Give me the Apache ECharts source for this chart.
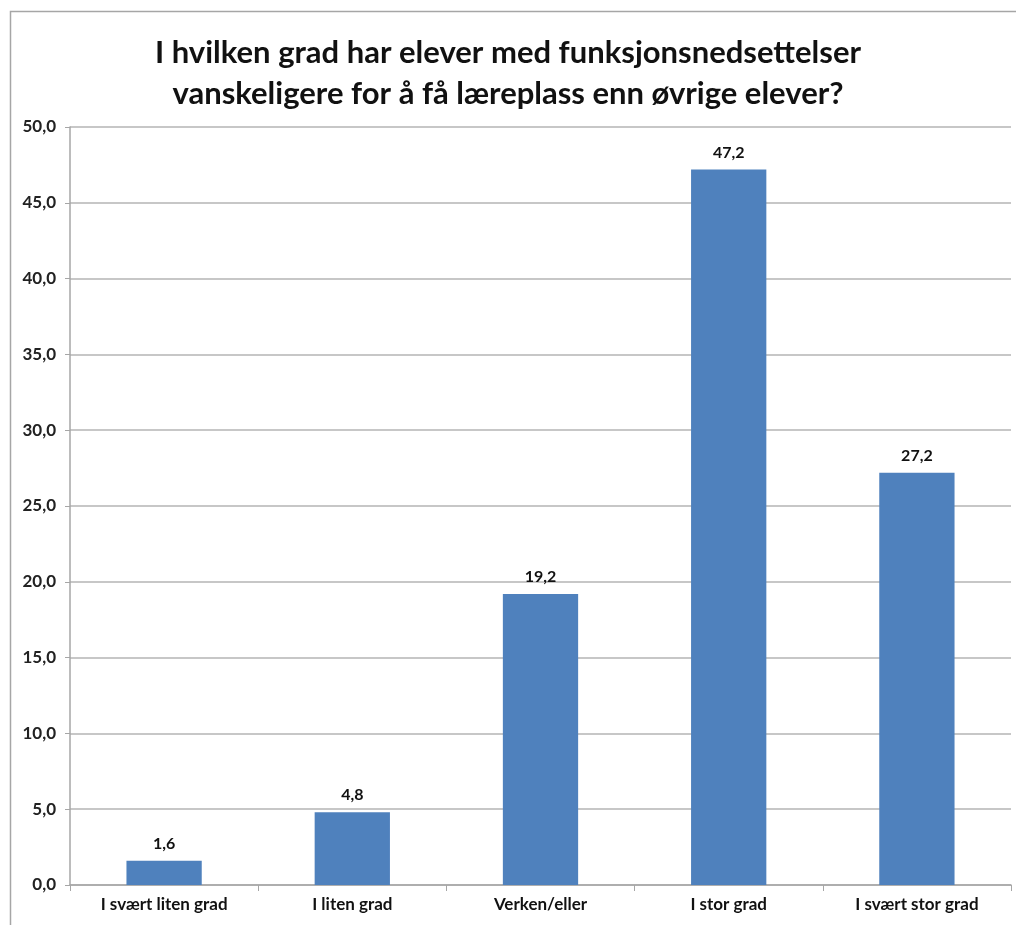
<!DOCTYPE html>
<html><head><meta charset="utf-8">
<script src="https://cdn.jsdelivr.net/npm/echarts@6/dist/echarts.min.js"></script>
<style>html,body{margin:0;padding:0;background:#fff}#c{width:1016px;height:925px}</style>
</head><body><div id="c"></div>
<script>
const categories = ['I svært liten grad','I liten grad','Verken/eller','I stor grad','I svært stor grad'];
const values = [1.6, 4.8, 19.2, 47.2, 27.2];
const titleText = 'I hvilken grad har elever med funksjonsnedsettelser\nvanskeligere for å få læreplass enn øvrige elever?';
const fmt = v => Number(v).toFixed(1).replace('.', ',');
const FONT = 'Lato, "Open Sans", sans-serif';
const chart = echarts.init(document.getElementById('c'), null, {renderer:'canvas'});
chart.setOption({
  backgroundColor:'#fff',
  animation:false,
  title:{text:titleText,left:'center',top:27,textStyle:{fontFamily:FONT,fontSize:31,fontWeight:'bold',color:'#111',lineHeight:41}},
  graphic:[{type:'rect',shape:{x:10.5,y:11.5,width:1100,height:1000},style:{fill:'none',stroke:'#a6a6a6',lineWidth:1.5},silent:true}],
  grid:{left:70,right:5,top:127,bottom:40,containLabel:false},
  xAxis:{type:'category',data:categories,
    axisLine:{lineStyle:{color:'#a6a6a6',width:1.5}},
    axisTick:{show:true,length:6,lineStyle:{color:'#a6a6a6'}},
    axisLabel:{fontFamily:FONT,fontSize:17,fontWeight:'bold',color:'#111',margin:11}},
  yAxis:{type:'value',min:0,max:50,interval:5,
    axisLine:{show:true,lineStyle:{color:'#a6a6a6',width:1.5}},
    axisTick:{show:true,length:5,lineStyle:{color:'#a6a6a6'}},
    splitLine:{lineStyle:{color:'#b5b5b5',width:1.5}},
    axisLabel:{formatter:fmt,fontFamily:FONT,fontSize:17,fontWeight:'bold',color:'#222',margin:14}},
  series:[{type:'bar',data:values,barWidth:'40%',itemStyle:{color:'#4F81BD'},
    label:{show:true,position:'top',distance:9,formatter:p=>fmt(p.value),fontFamily:FONT,fontSize:16,fontWeight:'bold',color:'#111'}}]
});
</script></body></html>
